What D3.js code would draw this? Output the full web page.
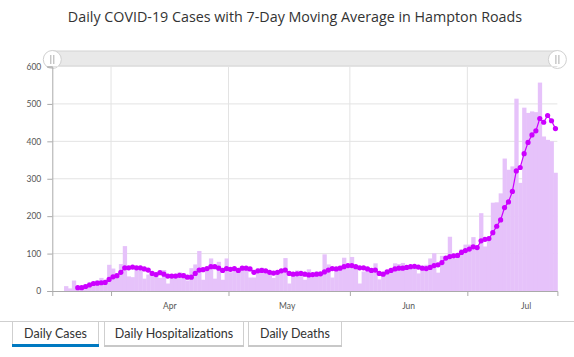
<!DOCTYPE html>
<html><head><meta charset="utf-8">
<script src="https://cdn.jsdelivr.net/npm/d3@7"></script>
<style>
html,body{margin:0;padding:0;background:#fff;}
svg{display:block;}
</style>
</head><body>
<svg id="chart" width="574" height="357"></svg>
<script>
// ---- data ----
const titleText = "Daily COVID-19 Cases with 7-Day Moving Average in Hampton Roads";
const firstCaseDate = "2020-03-20";   // first daily bar
const firstAvgDate = "2020-03-23";    // first moving-average point
const dailyCases = [13,7,28,10,8,18,24,25,29,35,30,70,60,45,72,120,39,37,60,60,
  33,44,40,50,35,56,20,45,46,50,48,28,61,71,107,30,62,87,33,78,
  30,87,50,55,52,65,63,36,36,60,62,54,50,35,50,52,88,20,47,55,
  40,30,58,40,52,50,98,71,36,62,65,89,70,91,61,20,52,55,54,74,
  31,45,55,58,74,72,75,65,68,62,47,60,70,87,101,49,94,83,145,87,
  100,112,124,124,144,118,208,119,140,236,237,261,354,324,333,514,289,490,476,480,
  478,557,413,404,400,316];
const movingAvg = [9,9,12,16,20,21,22,23,31,38,41,50,62,62,64,62,62,59,56,47,
  44,49,45,40,40,40,42,41,37,37,47,56,57,60,65,65,61,55,60,58,
  60,55,61,61,59,50,54,55,54,50,48,50,54,56,47,45,46,47,45,43,
  44,45,46,51,56,60,59,61,65,68,68,65,62,62,59,55,56,47,45,51,
  55,59,61,61,63,65,66,64,61,60,63,68,70,76,88,92,94,95,103,108,
  112,118,116,134,138,140,156,173,190,223,238,266,321,330,367,397,417,428,461,451,
  469,455,434];
const yTicks = [0,100,200,300,400,500,600];
const monthTicks = ["2020-04-01","2020-05-01","2020-06-01","2020-07-01"];
const monthLabels = ["Apr","May","Jun","Jul"];
const monthLabelDates = ["2020-04-16","2020-05-16","2020-06-16","2020-07-16"];
const tabLabels = ["Daily Cases","Daily Hospitalizations","Daily Deaths"];
const domainDates = ["2020-03-17","2020-07-24"];

// ---- build ----
const parse = d3.utcParse("%Y-%m-%d");
const svg = d3.select("#chart");
const x = d3.scaleUtc().domain(domainDates.map(parse)).range([52.3, 557.4]);
const y = d3.scaleLinear().domain([0, 600]).range([291, 66.5]);

const caseData = dailyCases.map((v, i) => ({date: d3.utcDay.offset(parse(firstCaseDate), i), value: v}));
const avgData = movingAvg.map((v, i) => ({date: d3.utcDay.offset(parse(firstAvgDate), i), value: v}));

// title
svg.append("text").attr("x", 295).attr("y", 22).attr("text-anchor", "middle")
  .attr("font-family", "Open Sans, sans-serif").attr("font-size", 14.3).attr("fill", "#333")
  .text(titleText);

// slider
const sl = svg.append("g");
sl.append("rect").attr("x", x.range()[0]).attr("y", 51).attr("width", x.range()[1] - x.range()[0]).attr("height", 15)
  .attr("fill", "#e9e9e9").attr("stroke", "#d4d4d4").attr("stroke-width", 1);
[x.range()[0], x.range()[1]].forEach(cx => {
  sl.append("circle").attr("cx", cx).attr("cy", 59.5).attr("r", 9).attr("fill", "#fff")
    .attr("stroke", "#d0d0d0").attr("stroke-width", 1);
  sl.append("line").attr("x1", cx - 1.5).attr("x2", cx - 1.5).attr("y1", 55).attr("y2", 64).attr("stroke", "#999").attr("stroke-width", 0.8);
  sl.append("line").attr("x1", cx + 1.5).attr("x2", cx + 1.5).attr("y1", 55).attr("y2", 64).attr("stroke", "#999").attr("stroke-width", 0.8);
});

// grid
const grid = svg.append("g");
grid.selectAll(".hg").data(yTicks.filter(t => t > 0)).join("line")
  .attr("x1", x.range()[0]).attr("x2", x.range()[1])
  .attr("y1", d => y(d)).attr("y2", d => y(d))
  .attr("stroke", "#e3e3e3").attr("stroke-width", 1);
grid.selectAll(".vg").data(monthTicks.map(parse)).join("line")
  .attr("x1", d => x(d)).attr("x2", d => x(d))
  .attr("y1", y(600)).attr("y2", y(0))
  .attr("stroke", "#e3e3e3").attr("stroke-width", 1);

// bars
svg.append("g").selectAll("rect").data(caseData).join("rect")
  .attr("x", d => x(d.date))
  .attr("width", d => x(d3.utcDay.offset(d.date, 1)) - x(d.date) + 0.4)
  .attr("y", d => y(d.value))
  .attr("height", d => y(0) - y(d.value))
  .attr("fill", "#e6c2fa");

// axes
const yAxis = d3.axisLeft(y).tickValues(yTicks).tickSize(5).tickPadding(6);
const gy = svg.append("g").attr("transform", `translate(${x.range()[0]},0)`).call(yAxis);
gy.select(".domain").attr("stroke", "#aaa");
gy.selectAll(".tick line").attr("stroke", "#aaa");
gy.selectAll(".tick text").attr("font-family", "Lato, sans-serif").attr("font-size", 8.5).attr("fill", "#555");

const xAxis = d3.axisBottom(x).tickValues(monthTicks.map(parse)).tickSize(5).tickFormat("");
const gx = svg.append("g").attr("transform", `translate(0,${y(0)})`).call(xAxis);
gx.select(".domain").attr("stroke", "#aaa");
gx.selectAll(".tick line").attr("stroke", "#aaa");
svg.append("g").selectAll("text").data(monthLabelDates.map(parse)).join("text")
  .attr("x", d => x(d)).attr("y", 309).attr("text-anchor", "middle")
  .attr("font-family", "Lato, sans-serif").attr("font-size", 8.5).attr("fill", "#555")
  .text((d, i) => monthLabels[i]);

// moving average
const mid = d => x(d3.utcHour.offset(d.date, 12));
svg.append("path").datum(avgData)
  .attr("d", d3.line().x(mid).y(d => y(d.value)))
  .attr("fill", "none").attr("stroke", "#cc00ff").attr("stroke-width", 1.2);
svg.append("g").selectAll("circle").data(avgData).join("circle")
  .attr("cx", mid).attr("cy", d => y(d.value)).attr("r", 2.6).attr("fill", "#cc00ff");

// tabs
const tabs = svg.append("g");
tabs.append("line").attr("x1", 0).attr("x2", 574).attr("y1", 321.5).attr("y2", 321.5).attr("stroke", "#cfcfcf");
const tabX = [12, 104, 248];
const tabW = [86, 139, 93];
tabLabels.forEach((t, i) => {
  const g = tabs.append("g");
  g.append("rect").attr("x", tabX[i] + 0.5).attr("y", 321.5).attr("width", tabW[i]).attr("height", 25)
    .attr("fill", "#fff").attr("stroke", "#cfcfcf");
  if (i === 0) {
    g.append("rect").attr("x", tabX[i]).attr("y", 344).attr("width", tabW[i] + 1).attr("height", 3).attr("fill", "#0079c1");
  } else {
    g.append("rect").attr("x", tabX[i]).attr("y", 345).attr("width", tabW[i] + 1).attr("height", 2).attr("fill", "#c8c8c8");
  }
  g.append("text").attr("x", tabX[i] + tabW[i] / 2 + 0.5).attr("y", 338).attr("text-anchor", "middle")
    .attr("font-family", "Lato, sans-serif").attr("font-size", 12.5).attr("fill", "#333").text(t);
});
</script>
</body></html>
